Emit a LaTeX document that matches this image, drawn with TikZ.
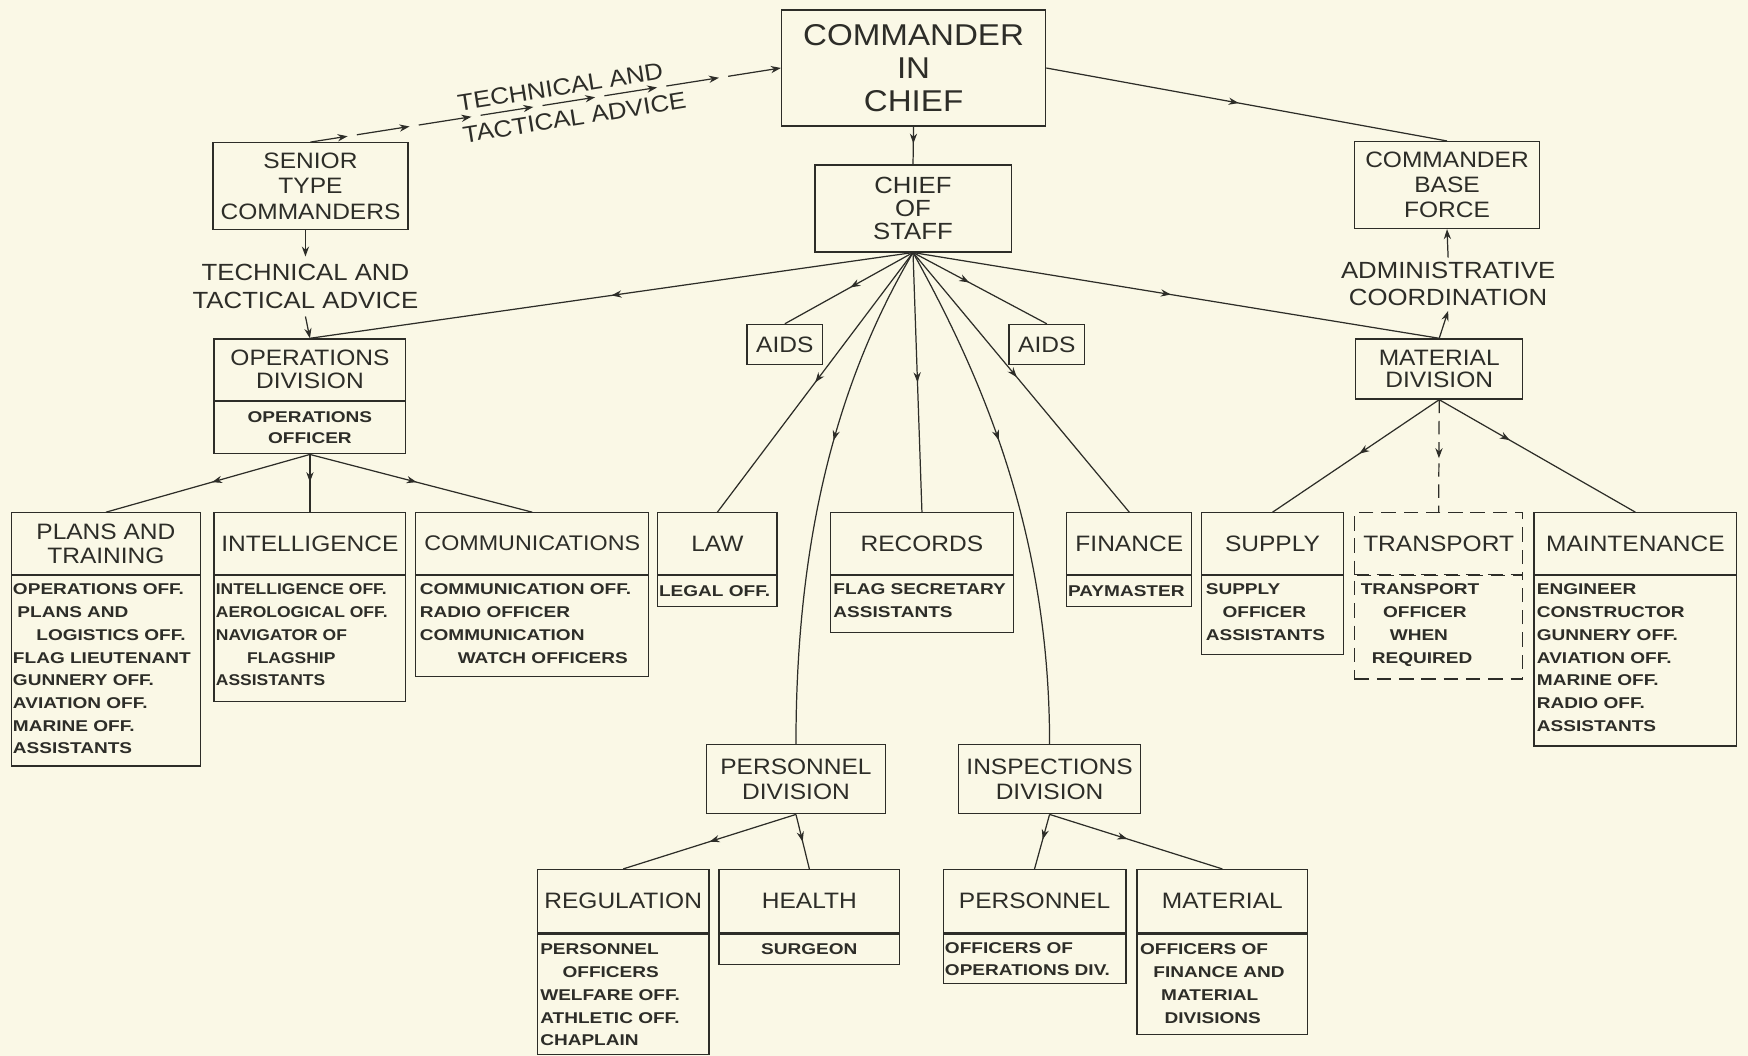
\documentclass[tikz,border=0pt]{standalone}
\usepackage{fontspec}
\setmainfont{Liberation Sans}
\newfontfamily\hdfont[FakeStretch=1.1]{Liberation Sans}
\newfontfamily\bdfont[FakeStretch=1.22]{Liberation Sans}
\newfontfamily\bdfontn[FakeStretch=1.12]{Liberation Sans}
\usetikzlibrary{arrows.meta,decorations.markings,calc}
\definecolor{paper}{RGB}{250,248,230}
\definecolor{ink}{RGB}{45,45,40}
\tikzset{
  frame/.style={draw=ink, line width=1.1pt, inner sep=0pt},
  hdr/.style={frame, align=center, text=ink, font=\hdfont\fontsize{20}{21.5}\selectfont},
  dashfr/.style={dash pattern=on 13pt off 7pt},
  bodyfr/.style={frame, anchor=north},
  bodytx/.style={inner sep=0pt, anchor=north west, align=left, text=ink, font=\bdfont\bfseries\fontsize{14}{20.4}\selectfont},
  lbl/.style={inner sep=4pt, align=center, text=ink, font=\hdfont\fontsize{21}{24.5}\selectfont},
  conn/.style={draw=ink, line width=1.1pt},
  midarr/.style={conn, postaction={decorate}, decoration={markings, mark=at position #1 with {\arrow{Stealth[length=9pt,width=6.5pt]}}}},
  endarr/.style={conn, -{Stealth[length=9pt,width=6.5pt]}},
}
\begin{document}
\begin{tikzpicture}[x=1pt,y=-1pt]
\useasboundingbox (0,0) rectangle (1568,947);
\fill[paper] (0,0) rectangle (1568,947);

% top level
\node[hdr, font=\hdfont\fontsize{27}{29.5}\selectfont, minimum width=237pt, minimum height=104pt] (cic) at (819.5,61) {COMMANDER\\IN\\CHIEF};
\node[hdr, font=\hdfont\fontsize{21}{21}\selectfont, minimum width=176pt, minimum height=78pt] (cos) at (819,187) {CHIEF\\OF\\STAFF};
\node[hdr, font=\hdfont\fontsize{20}{23}\selectfont, minimum width=175pt, minimum height=78pt] (stc) at (278.5,167) {SENIOR\\TYPE\\COMMANDERS};
\node[hdr, font=\hdfont\fontsize{20}{22.5}\selectfont, minimum width=166pt, minimum height=78pt] (cbf) at (1298,166) {COMMANDER\\BASE\\FORCE};

\node[hdr, font=\hdfont\fontsize{20}{21}\selectfont, minimum width=172pt, minimum height=55pt] (ops) at (278,331.5) {OPERATIONS\\DIVISION};
\node[frame, anchor=north, align=center, text=ink, font=\bdfont\bfseries\fontsize{14}{19}\selectfont, minimum width=172pt, minimum height=47pt] (opsb) at (ops.south) {OPERATIONS\\OFFICER};
\node[hdr, font=\hdfont\fontsize{20}{20}\selectfont, minimum width=150pt, minimum height=54pt] (matd) at (1291,331) {MATERIAL\\DIVISION};
\node[hdr, minimum width=68pt, minimum height=36pt] (aidsl) at (704,309) {AIDS};
\node[hdr, minimum width=68pt, minimum height=36pt] (aidsr) at (939,309) {AIDS};

\node[lbl, inner sep=7pt] (advl) at (274,257) {TECHNICAL AND\\TACTICAL ADVICE};
\node[lbl] (admin) at (1299,255) {ADMINISTRATIVE\\COORDINATION};
\node[lbl, inner sep=0pt, align=left, rotate=9, font=\hdfont\fontsize{21}{29}\selectfont] (advr) at (513,91) {TECHNICAL AND\\TACTICAL ADVICE};

% bottom row headers
\node[hdr, minimum width=170pt, minimum height=55pt] (plans) at (95,487.5) {PLANS AND\\TRAINING};
\node[hdr, minimum width=172pt, minimum height=55pt] (intel) at (278,487.5) {INTELLIGENCE};
\node[hdr, font=\hdfont\fontsize{19}{21}\selectfont, minimum width=209pt, minimum height=55pt] (comm) at (477.5,487.5) {COMMUNICATIONS};
\node[hdr, minimum width=107pt, minimum height=55pt] (law) at (643.5,487.5) {LAW};
\node[hdr, minimum width=164pt, minimum height=55pt] (rec) at (827,487.5) {RECORDS};
\node[hdr, minimum width=112pt, minimum height=55pt] (fin) at (1013,487.5) {FINANCE};
\node[hdr, minimum width=127pt, minimum height=55pt] (sup) at (1141.5,487.5) {SUPPLY};
\node[hdr, dashfr, minimum width=151pt, minimum height=55pt] (trans) at (1290.5,487.5) {TRANSPORT};
\node[hdr, minimum width=182pt, minimum height=55pt] (maint) at (1467,487.5) {MAINTENANCE};

% bottom row bodies
\node[bodyfr, minimum width=170pt, minimum height=171pt] (plansb) at (plans.south) {};
\node[bodyfr, minimum width=172pt, minimum height=113pt] (intelb) at (intel.south) {};
\node[bodyfr, minimum width=209pt, minimum height=91pt] (commb) at (comm.south) {};
\node[bodyfr, minimum width=107pt, minimum height=28pt] (lawb) at (law.south) {};
\node[bodyfr, minimum width=164pt, minimum height=51pt] (recb) at (rec.south) {};
\node[bodyfr, minimum width=112pt, minimum height=28pt] (finb) at (fin.south) {};
\node[bodyfr, minimum width=127pt, minimum height=71pt] (supb) at (sup.south) {};
\node[bodyfr, dashfr, minimum width=151pt, minimum height=93pt] (transb) at (trans.south) {};
\node[bodyfr, minimum width=182pt, minimum height=153pt] (maintb) at (maint.south) {};

\node[bodytx] (plansT) at ([shift={(2,8)}]plansb.north west) {OPERATIONS OFF.\\\hspace*{4pt}PLANS AND\\\hspace*{21pt}LOGISTICS OFF.\\FLAG LIEUTENANT\\GUNNERY OFF.\\AVIATION OFF.\\MARINE OFF.\\ASSISTANTS};
\node[bodytx, font=\bdfontn\bfseries\fontsize{14}{20.4}\selectfont] (intelT) at ([shift={(2,8)}]intelb.north west) {INTELLIGENCE OFF.\\AEROLOGICAL OFF.\\NAVIGATOR OF\\\hspace*{28pt}FLAGSHIP\\ASSISTANTS};
\node[bodytx] (commT) at ([shift={(4,8)}]commb.north west) {COMMUNICATION OFF.\\RADIO OFFICER\\COMMUNICATION\\\hspace*{34pt}WATCH OFFICERS};
\node[bodytx, anchor=west] (lawT) at ([xshift=1.5]lawb.west) {LEGAL OFF.};
\node[bodytx] (recT) at ([shift={(3,8)}]recb.north west) {FLAG SECRETARY\\ASSISTANTS};
\node[bodytx, anchor=west] (finT) at ([xshift=1.5]finb.west) {PAYMASTER};
\node[bodytx] (supT) at ([shift={(4,8)}]supb.north west) {SUPPLY\\\hspace*{15pt}OFFICER\\ASSISTANTS};
\node[bodytx] (transT) at ([shift={(6,8)}]transb.north west) {TRANSPORT\\\hspace*{20pt}OFFICER\\\hspace*{26pt}WHEN\\\hspace*{10pt}REQUIRED};
\node[bodytx] (maintT) at ([shift={(3,8)}]maintb.north west) {ENGINEER\\CONSTRUCTOR\\GUNNERY OFF.\\AVIATION OFF.\\MARINE OFF.\\RADIO OFF.\\ASSISTANTS};

% divisions lower
\node[hdr, font=\hdfont\fontsize{20}{22}\selectfont, minimum width=160pt, minimum height=62pt] (pdiv) at (714,699) {PERSONNEL\\DIVISION};
\node[hdr, font=\hdfont\fontsize{20}{22}\selectfont, minimum width=163pt, minimum height=62pt] (ispd) at (941.5,699) {INSPECTIONS\\DIVISION};

\node[hdr, minimum width=154pt, minimum height=57pt] (reg) at (559,808.5) {REGULATION};
\node[hdr, minimum width=162pt, minimum height=57pt] (hea) at (726,808.5) {HEALTH};
\node[hdr, minimum width=164pt, minimum height=57pt] (per) at (928,808.5) {PERSONNEL};
\node[hdr, minimum width=153pt, minimum height=57pt] (mtl) at (1096.5,808.5) {MATERIAL};

\node[bodyfr, minimum width=154pt, minimum height=108pt] (regb) at (reg.south) {};
\node[bodyfr, minimum width=162pt, minimum height=27pt] (heab) at (hea.south) {};
\node[bodyfr, minimum width=164pt, minimum height=44pt] (perb) at (per.south) {};
\node[bodyfr, minimum width=153pt, minimum height=90pt] (mtlb) at (mtl.south) {};

\node[bodytx] (regT) at ([shift={(3,9)}]regb.north west) {PERSONNEL\\\hspace*{20pt}OFFICERS\\WELFARE OFF.\\ATHLETIC OFF.\\CHAPLAIN};
\node[bodytx, anchor=center] (heaT) at (heab.center) {SURGEON};
\node[bodytx, font=\bdfont\bfseries\fontsize{14}{19.5}\selectfont] (perT) at ([shift={(2,8)}]perb.north west) {OFFICERS OF\\OPERATIONS DIV.};
\node[bodytx] (mtlT) at ([shift={(3,9)}]mtlb.north west) {OFFICERS OF\\\hspace*{12pt}FINANCE AND\\\hspace*{19pt}MATERIAL\\\hspace*{22pt}DIVISIONS};

% connectors
\draw[midarr=0.45] (cic.south) -- (cos.north);
\draw[midarr=0.48] (cic.east) -- (cbf.north);
\foreach \i in {0,...,7}{
  \pgfmathsetmacro\tb{0.079+\i*0.13157}
  \pgfmathsetmacro\ta{max(0,\tb-0.112)}
  \draw[endarr] ($(stc.north)!\ta!(cic.west)$) -- ($(stc.north)!\tb!(cic.west)$);
}
\draw[endarr] (advl.north |- stc.south) -- (advl.north);
\draw[endarr] (advl.south) -- (ops.north);
\draw[endarr] (matd.north) -- (admin.south);
\draw[endarr] (admin.north) -- (cbf.south);

\draw[midarr=0.5] (cos.south) -- (ops.north);
\draw[midarr=0.49] (cos.south) -- (aidsl.north);
\draw[midarr=0.5] (cos.south) -- (law.north);
\draw[midarr=0.4] (cos.south) .. controls +(-66,112) and +(0,-190) .. (pdiv.north);
\draw[midarr=0.5] (cos.south) -- (rec.north);
\draw[midarr=0.4] (cos.south) .. controls +(62,112) and +(0,-190) .. (ispd.north);
\draw[midarr=0.48] (cos.south) -- (fin.north);
\draw[midarr=0.42] (cos.south) -- (aidsr.north);
\draw[midarr=0.49] (cos.south) -- (matd.north);

\draw[midarr=0.48] (opsb.south) -- (plans.north);
\draw[midarr=0.48] (opsb.south) -- (intel.north);
\draw[midarr=0.48] (opsb.south) -- (comm.north);

\draw[midarr=0.48] (matd.south) -- (sup.north);
\draw[midarr=0.52, dash pattern=on 12pt off 7pt] (matd.south) -- (trans.north);
\draw[midarr=0.36] (matd.south) -- (maint.north);

\draw[midarr=0.5] (pdiv.south) -- (reg.north);
\draw[midarr=0.5] (pdiv.south) -- (hea.north);
\draw[midarr=0.46] (ispd.south) -- (per.north);
\draw[midarr=0.45] (ispd.south) -- (mtl.north);
\end{tikzpicture}
\end{document}
